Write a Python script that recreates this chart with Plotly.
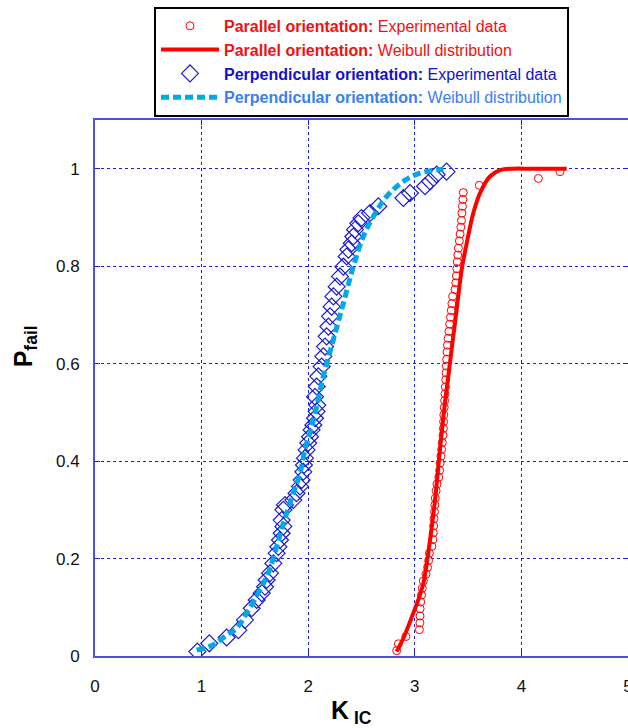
import plotly.graph_objects as go

# ---- Data ----
par_exp_k = [2.830, 2.846, 2.917, 3.043, 3.048, 3.049, 3.050, 3.055, 3.063, 3.070,
             3.080, 3.105, 3.120, 3.130, 3.137, 3.160, 3.170, 3.174, 3.177, 3.180,
             3.185, 3.188, 3.192, 3.200, 3.208, 3.225, 3.233, 3.238, 3.245, 3.252,
             3.258, 3.265, 3.268, 3.270, 3.272, 3.276, 3.280, 3.283, 3.287, 3.290,
             3.293, 3.296, 3.299, 3.302, 3.306, 3.313, 3.320, 3.327, 3.335, 3.342,
             3.348, 3.355, 3.377, 3.385, 3.390, 3.394, 3.398, 3.403, 3.409, 3.418,
             3.425, 3.432, 3.438, 3.442, 3.447, 3.451, 3.455, 3.605, 4.159, 4.362]
par_exp_p = [0.011, 0.025, 0.040, 0.054, 0.068, 0.082, 0.097, 0.111, 0.125, 0.139,
             0.154, 0.168, 0.182, 0.196, 0.211, 0.225, 0.239, 0.253, 0.267, 0.282,
             0.296, 0.310, 0.324, 0.339, 0.353, 0.367, 0.381, 0.396, 0.410, 0.424,
             0.438, 0.453, 0.467, 0.481, 0.495, 0.510, 0.524, 0.538, 0.552, 0.567,
             0.581, 0.595, 0.609, 0.624, 0.638, 0.652, 0.666, 0.681, 0.695, 0.709,
             0.723, 0.738, 0.752, 0.766, 0.780, 0.795, 0.809, 0.823, 0.837, 0.852,
             0.866, 0.880, 0.894, 0.909, 0.923, 0.937, 0.951, 0.966, 0.980, 0.994]

par_wb_k = [2.830, 2.900, 2.986, 3.040, 3.080, 3.143, 3.190, 3.236, 3.283, 3.315,
            3.346, 3.392, 3.440, 3.487, 3.549, 3.612, 3.705, 3.800, 3.920, 4.100, 4.425]
par_wb_p = [0.009, 0.040, 0.088, 0.120, 0.149, 0.238, 0.320, 0.423, 0.520, 0.575,
            0.630, 0.710, 0.793, 0.847, 0.909, 0.950, 0.984, 0.997, 1.000, 1.000, 1.000]

perp_exp_k = [0.960, 1.072, 1.235, 1.345, 1.407, 1.470, 1.517, 1.564, 1.595, 1.610,
              1.642, 1.673, 1.704, 1.720, 1.735, 1.751, 1.767, 1.751, 1.767, 1.782,
              1.860, 1.890, 1.923, 1.938, 1.954, 1.960, 1.970, 1.985, 2.000, 2.017,
              2.032, 2.048, 2.064, 2.079, 2.085, 2.064, 2.080, 2.095, 2.126, 2.142,
              2.158, 2.173, 2.189, 2.205, 2.220, 2.236, 2.267, 2.298, 2.330, 2.361,
              2.377, 2.408, 2.423, 2.439, 2.470, 2.500, 2.580, 2.658, 2.893, 2.955,
              3.096, 3.143, 3.205, 3.298]
perp_exp_p = [0.009, 0.026, 0.038, 0.053, 0.074, 0.098, 0.115, 0.129, 0.142, 0.156,
              0.170, 0.190, 0.211, 0.224, 0.238, 0.252, 0.266, 0.279, 0.300, 0.310,
              0.320, 0.334, 0.348, 0.361, 0.378, 0.392, 0.406, 0.423, 0.437, 0.450,
              0.464, 0.474, 0.488, 0.502, 0.515, 0.532, 0.553, 0.574, 0.594, 0.615,
              0.635, 0.656, 0.676, 0.697, 0.717, 0.738, 0.758, 0.779, 0.799, 0.820,
              0.834, 0.847, 0.861, 0.875, 0.888, 0.899, 0.909, 0.923, 0.940, 0.950,
              0.964, 0.974, 0.988, 0.994]

perp_wb_k = [0.954, 1.110, 1.235, 1.329, 1.423, 1.548, 1.626, 1.704, 1.767, 1.860,
             1.923, 1.970, 2.033, 2.080, 2.142, 2.236, 2.330, 2.423, 2.517, 2.611,
             2.736, 2.893, 3.049, 3.268]
perp_wb_p = [0.012, 0.023, 0.043, 0.057, 0.088, 0.136, 0.170, 0.224, 0.272, 0.334,
             0.375, 0.423, 0.471, 0.512, 0.574, 0.649, 0.724, 0.799, 0.861, 0.902,
             0.943, 0.974, 0.991, 0.999]

x_ticks = [0, 1, 2, 3, 4, 5]
y_ticks = [0, 0.2, 0.4, 0.6, 0.8, 1]
y_tick_labels = ["0", "0.2", "0.4", "0.6", "0.8", "1"]

RED = "#ff0000"
RED_TXT = "#ee1111"
BLUE = "#1a1ad0"
BLUE_TXT = "#1212c8"
CYAN = "#00a8e8"
CYAN_TXT = "#3a7ff0"
AXIS = "#5050e0"
GRID = "#2020d0"
FONT = "Liberation Sans, Arial, sans-serif"

fig = go.Figure()
fig.add_trace(go.Scatter(
    x=par_exp_k, y=par_exp_p, mode="markers",
    marker=dict(symbol="circle-open", size=8, color=RED, line=dict(width=1, color=RED)),
    name=f"<span style='color:{RED_TXT}'><b>Parallel orientation:</b> Experimental data</span>"))
fig.add_trace(go.Scatter(
    x=par_wb_k, y=par_wb_p, mode="lines", line=dict(color=RED, width=4, shape="spline"),
    name=f"<span style='color:{RED_TXT}'><b>Parallel orientation:</b> Weibull distribution</span>"))
fig.add_trace(go.Scatter(
    x=perp_exp_k, y=perp_exp_p, mode="markers",
    marker=dict(symbol="diamond-open", size=13, color=BLUE, line=dict(width=1.2, color=BLUE)),
    name=f"<span style='color:{BLUE_TXT}'><b>Perpendicular orientation:</b> Experimental data</span>"))
fig.add_trace(go.Scatter(
    x=perp_wb_k, y=perp_wb_p, mode="lines",
    line=dict(color=CYAN, width=5, dash="8px,4px", shape="spline"),
    name=f"<span style='color:{CYAN_TXT}'><b>Perpendicular orientation:</b> Weibull distribution</span>"))

axis_common = dict(
    showline=True, linecolor=AXIS, linewidth=2, mirror="ticks",
    ticks="inside", ticklen=5, tickcolor=GRID, tickwidth=1,
    showgrid=True, gridcolor=GRID, griddash="dot", gridwidth=1,
    zeroline=False, automargin=False,
    tickfont=dict(family=FONT, size=17, color="#111111"),
)

fig.update_xaxes(range=[0, 5], tickvals=x_ticks, ticktext=[str(v) for v in x_ticks],
                 ticklabelstandoff=14, ticklabeloverflow="allow", **axis_common)
fig.update_yaxes(range=[0, 1.1], tickvals=y_ticks, ticktext=y_tick_labels,
                 ticklabelstandoff=10, **axis_common)

fig.add_annotation(text="<b>K</b><sub><b> IC</b></sub>", xref="paper", yref="paper",
                   x=0.482, y=-0.104, xanchor="center", yanchor="middle", showarrow=False,
                   font=dict(family=FONT, size=25, color="#000000"))
fig.add_annotation(text="<b>P</b><sub><b>fail</b></sub>", xref="paper", yref="paper",
                   x=-0.131, y=0.578, xanchor="center", yanchor="middle", showarrow=False,
                   textangle=-90, font=dict(family=FONT, size=25, color="#000000"))

fig.update_layout(
    width=628, height=728, template="none",
    margin=dict(l=95, r=0, t=120, b=72, pad=0),
    paper_bgcolor="white", plot_bgcolor="white",
    showlegend=True,
    legend=dict(x=0.5, xanchor="center", y=1.211, yanchor="top",
                bgcolor="white", bordercolor="black", borderwidth=2,
                font=dict(family=FONT, size=16), itemwidth=58,
                tracegroupgap=0),
)

fig.write_html("out.html")
